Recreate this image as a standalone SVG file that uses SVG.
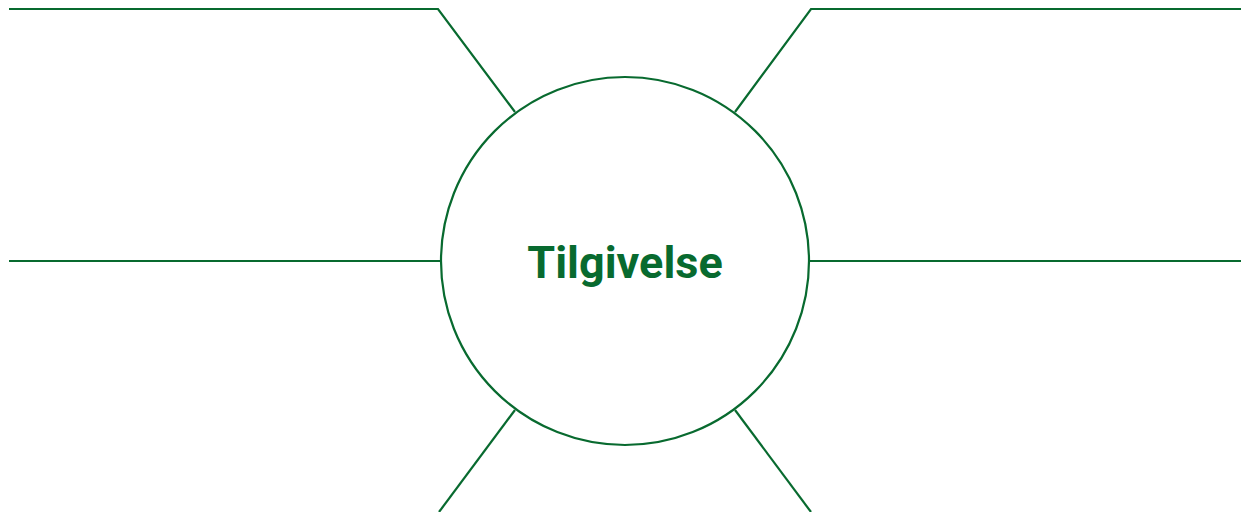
<svg xmlns="http://www.w3.org/2000/svg" width="1243" height="512" viewBox="0 0 1243 512">
<style>
.c{fill:none;stroke:#086a2f;stroke-width:2.2}
.t{font-family:Roboto,"Liberation Sans",sans-serif;font-weight:bold;font-size:45px;fill:#086a2f}
</style>
<rect width="1243" height="512" fill="#fff"/>
<g id="connectors">
<polyline class="c" points="9,9 438,9 515,112"/>
<polyline class="c" points="1241,9 811,9 735,112"/>
<line class="c" x1="9" y1="261" x2="441" y2="261"/>
<line class="c" x1="809" y1="261" x2="1241" y2="261"/>
<line class="c" x1="515" y1="410" x2="439" y2="512"/>
<line class="c" x1="735" y1="410" x2="811" y2="512"/>
</g>
<g id="center">
<circle class="c" cx="625" cy="261" r="184"/>
<text class="t" x="625" y="278" text-anchor="middle">Tilgivelse</text>
</g>
</svg>
